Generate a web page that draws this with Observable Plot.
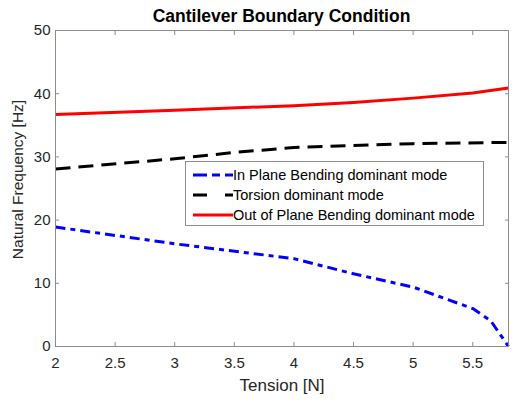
<!DOCTYPE html>
<html><head><meta charset="utf-8">
<script src="https://cdn.jsdelivr.net/npm/d3@7"></script>
<script src="https://cdn.jsdelivr.net/npm/@observablehq/plot@0.6"></script>
<style>
body{margin:0;background:#fff;font-family:"Liberation Sans",Arial,sans-serif;}
#wrap{position:relative;width:514px;height:402px;overflow:hidden;}
#title{height:22px;line-height:32px;font-size:17.5px;font-weight:bold;color:#000;text-align:center;padding-left:49px;width:465px;white-space:nowrap;}
#chart svg{overflow:visible;display:block;}
#legend{position:absolute;left:185px;top:161px;width:297px;height:63px;border:1px solid #8c8c8c;background:#fff;font-size:14.5px;color:#000;}
.row{position:absolute;left:0;height:20px;display:flex;align-items:center;white-space:nowrap;}
.row svg{display:block;margin-right:0px;}
</style>
</head><body>
<div id="wrap">
<div id="title"></div>
<div id="chart"></div>
<div id="legend"></div>
</div>
<script>
const titleText = "Cantilever Boundary Condition";
const xLabel = "Tension [N]";
const yLabel = "Natural Frequency [Hz]";
const xTicks = [2, 2.5, 3, 3.5, 4, 4.5, 5, 5.5];
const yTicks = [0, 10, 20, 30, 40, 50];
const seriesNames = ["In Plane Bending dominant mode", "Torsion dominant mode", "Out of Plane Bending dominant mode"];
const seriesColors = ["#0000ff", "#000000", "#ff0000"];
const seriesDash = ["10,5,5,5", "15,8", null];
const legendDash = ["14,5,8,5", "14,18", null];

const inPlaneX = [2, 3, 4, 4.5, 5, 5.5, 5.65, 5.8];
const inPlaneY = [18.9, 16.25, 13.9, 11.5, 9.4, 6.0, 4.1, 0];
const torsionX = [2, 3, 3.5, 4, 5, 5.8];
const torsionY = [28.1, 29.7, 30.7, 31.5, 32.1, 32.3];
const outPlaneX = [2, 3, 4, 4.5, 5, 5.5, 5.8];
const outPlaneY = [36.7, 37.4, 38.1, 38.6, 39.3, 40.1, 40.9];

const seriesX = [inPlaneX, torsionX, outPlaneX];
const seriesY = [inPlaneY, torsionY, outPlaneY];

document.getElementById("title").textContent = titleText;

const tickColor = "#8c8c8c";
const textColor = "#262626";

const lineMarks = seriesX.map((xs, i) => Plot.line(xs.map((x, j) => ({x, y: seriesY[i][j]})), {
  x: "x", y: "y", stroke: seriesColors[i], strokeWidth: 3,
  strokeDasharray: seriesDash[i] || undefined, strokeLinecap: "butt", strokeLinejoin: "round"
}));

const chart = Plot.plot({
  width: 514,
  height: 380,
  marginTop: 8,
  marginBottom: 56,
  marginLeft: 55,
  marginRight: 6,
  style: {fontFamily: "'Liberation Sans', Arial, sans-serif", fontSize: "15px", background: "transparent"},
  x: {domain: [2, 5.8]},
  y: {domain: [0, 50]},
  marks: [
    Plot.axisX(xTicks, {anchor: "bottom", tickSize: -4, tickPadding: 15, stroke: tickColor, fill: textColor, fontSize: 15, label: null, tickFormat: d => String(d)}),
    Plot.axisX(xTicks, {anchor: "top", tickSize: -4, stroke: tickColor, label: null, tickFormat: () => ""}),
    Plot.axisY(yTicks, {anchor: "left", tickSize: -4, tickPadding: 9, stroke: tickColor, fill: textColor, fontSize: 15, label: null, tickFormat: d => String(d)}),
    Plot.axisY(yTicks, {anchor: "right", tickSize: -4, stroke: tickColor, label: null, tickFormat: () => ""}),
    ...lineMarks,
    Plot.frame({stroke: tickColor}),
    Plot.text([xLabel], {frameAnchor: "bottom", lineAnchor: "top", dy: 32, fontSize: 17, fill: textColor}),
    Plot.text([yLabel], {frameAnchor: "left", textAnchor: "middle", lineAnchor: "middle", rotate: -90, dx: -37, dy: -9, fontSize: 15.5, fill: textColor})
  ]
});
document.getElementById("chart").appendChild(chart);

const legend = document.getElementById("legend");
seriesNames.forEach((name, i) => {
  const row = document.createElement("div");
  row.className = "row";
  row.style.top = (3 + i * 20) + "px";
  const ns = "http://www.w3.org/2000/svg";
  const s = document.createElementNS(ns, "svg");
  s.setAttribute("width", 47); s.setAttribute("height", 20);
  const l = document.createElementNS(ns, "line");
  l.setAttribute("x1", 7); l.setAttribute("x2", 47);
  l.setAttribute("y1", 10); l.setAttribute("y2", 10);
  l.setAttribute("stroke", seriesColors[i]);
  l.setAttribute("stroke-width", 3);
  if (legendDash[i]) l.setAttribute("stroke-dasharray", legendDash[i]);
  s.appendChild(l);
  row.appendChild(s);
  const t = document.createElement("span");
  t.textContent = name;
  row.appendChild(t);
  legend.appendChild(row);
});
</script>
</body></html>
